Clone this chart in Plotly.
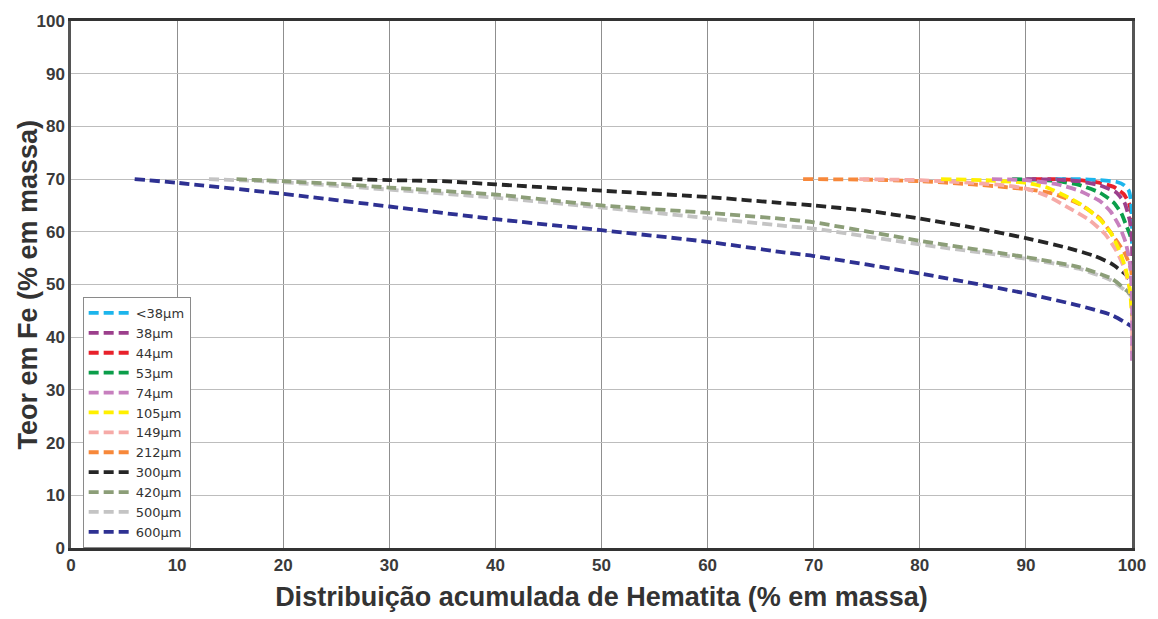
import plotly.graph_objects as go

# Grain-size classes (legend labels) and their line colours
labels = ["<38µm", "38µm", "44µm", "53µm", "74µm", "105µm",
          "149µm", "212µm", "300µm", "420µm", "500µm", "600µm"]
colors = ["#1cb5ec", "#9c3f8c", "#e8212b", "#0b9e4a", "#c77fbe", "#fff000",
          "#f6aaa7", "#f7883a", "#262626", "#8c9e78", "#c4c4c4", "#2e3192"]

# Cumulative hematite distribution (% mass) vs Fe grade (% mass), per class
x_lt38 = [92.8, 95, 97, 98.5, 99.3, 99.7, 99.9, 100, 100]
y_lt38 = [70, 70, 69.8, 69.5, 68.8, 67.8, 66, 62, 57.5]

x_38 = [90, 93, 95, 97, 98.5, 99.3, 99.8, 100, 100]
y_38 = [70, 69.9, 69.6, 68.8, 67.5, 65.5, 62, 58, 53]

x_44 = [90.6, 93, 95, 97, 98.3, 99.2, 99.7, 100, 100]
y_44 = [70, 70, 69.8, 69.3, 68.5, 67.2, 65.5, 63, 60]

x_53 = [88.7, 91, 93, 95, 97, 98.3, 99, 99.4, 99.8, 100]
y_53 = [70, 69.9, 69.6, 68.9, 67.4, 65.5, 63.5, 61.5, 59.5, 58]

x_74 = [86.8, 90, 93, 95, 97, 98, 98.8, 99.4, 99.8, 100, 100]
y_74 = [70, 69.8, 69.0, 67.8, 65.8, 63.8, 61.1, 58, 54, 48, 35]

x_105 = [82, 86, 90, 92, 94, 95.5, 97, 98, 98.8, 99.4, 99.8, 100]
y_105 = [70, 69.8, 69.3, 68.4, 66.5, 64.8, 62.3, 59.8, 56.5, 53, 49, 44]

x_149 = [74.3, 80, 85, 88, 90, 92, 94, 96, 97.5, 98.5, 99.2, 99.7, 100, 100]
y_149 = [70, 69.8, 69.3, 68.8, 68.2, 66.8, 64.6, 62.2, 59.5, 56.5, 53.5, 50, 45, 36]

x_212 = [69, 75, 80, 85, 88, 90, 92.5, 95, 97, 98.3, 99.3, 99.9, 100]
y_212 = [70, 69.9, 69.6, 69, 68.5, 68.1, 67.3, 65.3, 62.5, 59, 56, 53, 50]

x_300 = [26.5, 30, 35, 40, 50, 60, 66.8, 70, 75, 80, 85, 90, 94, 96.5, 98.1, 99.5, 100]
y_300 = [70, 69.8, 69.6, 69.0, 67.8, 66.6, 65.5, 65.0, 64.0, 62.5, 60.8, 58.8, 56.9, 55.4, 53.9, 51.7, 50]

x_420 = [15.6, 20, 25, 30, 40.4, 50, 60, 66.8, 70, 80, 90, 95, 98.1, 99.7, 100]
y_420 = [70, 69.6, 69.1, 68.4, 67.0, 65.0, 63.6, 62.5, 61.8, 58.3, 55.2, 53.3, 51.1, 48.5, 48]

x_500 = [13, 20, 30, 40.4, 50, 60, 66.8, 70, 80, 90, 95, 98, 99.7, 100]
y_500 = [70, 69.4, 68.0, 66.4, 64.6, 62.6, 61.2, 60.6, 57.6, 54.9, 53.0, 50.8, 48.3, 47.5]

x_600 = [6, 10, 20, 30, 40, 50, 60, 66.8, 70, 80, 90, 95, 98.1, 99.7, 100]
y_600 = [70, 69.3, 67.2, 64.8, 62.4, 60.3, 58.1, 56.2, 55.4, 52.1, 48.3, 46.0, 44.2, 42.4, 42]

series_x = [x_lt38, x_38, x_44, x_53, x_74, x_105, x_149, x_212, x_300, x_420, x_500, x_600]
series_y = [y_lt38, y_38, y_44, y_53, y_74, y_105, y_149, y_212, y_300, y_420, y_500, y_600]

fig = go.Figure()

# coarse classes first so the fine ones sit on top near x = 100
draw_order = [11, 10, 9, 8, 7, 6, 5, 3, 2, 0, 1, 4]
for i in draw_order:
    fig.add_trace(go.Scatter(
        x=series_x[i], y=series_y[i], mode="lines", name=labels[i],
        legendrank=i + 1,
        line=dict(color=colors[i], width=3.8, dash="10px,5px",
                  shape="spline", smoothing=0.5),
    ))

axis_font = dict(family="Liberation Sans, Arial, sans-serif", size=17,
                 color="#3a3a3a", weight="bold")
title_font = dict(family="Liberation Sans, Arial, sans-serif", size=27,
                  color="#333333", weight="bold")

fig.update_layout(
    width=1158, height=619,
    margin=dict(l=71, r=25, t=14, b=71),
    paper_bgcolor="white", plot_bgcolor="white",
    showlegend=True,
    legend=dict(
        x=0.011, y=0, xanchor="left", yanchor="bottom",
        bgcolor="white", bordercolor="#8a8a8a", borderwidth=1,
        font=dict(family="DejaVu Sans, sans-serif", size=13, color="#333333"),
        itemwidth=42, tracegroupgap=0,
    ),
    xaxis=dict(
        range=[0, 100], dtick=10, tick0=0,
        showgrid=True, gridcolor="#8f8f8f", gridwidth=1,
        showline=True, linecolor="#333333", linewidth=2.5, mirror=True,
        zeroline=False, ticks="", tickfont=axis_font,
        title=dict(text="Distribuição acumulada de Hematita (% em massa)",
                   font=title_font, standoff=13),
    ),
    yaxis=dict(
        range=[0, 100], dtick=10, tick0=0,
        showgrid=True, gridcolor="#bdbdbd", gridwidth=1,
        showline=True, linecolor="#555555", linewidth=2.5, mirror=True,
        zeroline=False, ticks="", tickfont=axis_font,
    ),
    annotations=[dict(
        text="Teor em Fe (% em massa)", textangle=-90,
        xref="paper", yref="paper", x=-0.0414, y=0.5,
        xanchor="center", yanchor="middle", showarrow=False,
        font=title_font,
    )],
)

fig.write_html("out.html")
